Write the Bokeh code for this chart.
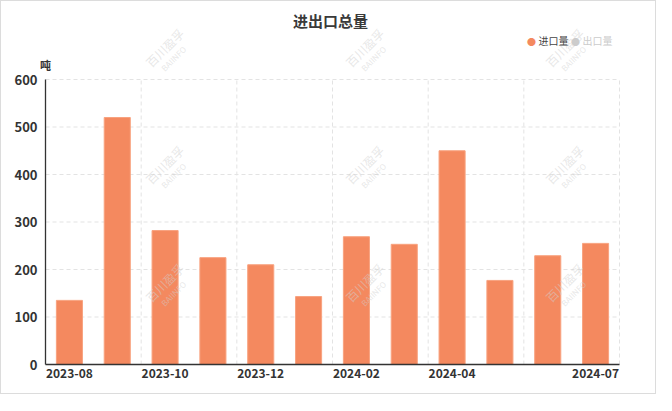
from bokeh.plotting import figure
from bokeh.models import Range1d, FixedTicker, Label, ColumnDataSource, LinearAxis
from bokeh.embed import file_html
from bokeh.resources import INLINE

# ---- data ----
months = ["2023-08", "2023-09", "2023-10", "2023-11", "2023-12", "2024-01",
          "2024-02", "2024-03", "2024-04", "2024-05", "2024-06", "2024-07"]
import_vals = [135, 520, 282, 225, 210, 143, 269, 253, 450, 177, 229, 255]
shown_label_idx = [0, 2, 4, 6, 8, 11]
y_ticks = [0, 100, 200, 300, 400, 500, 600]
grid_x = [2, 4, 6, 8, 10, 12]
title_text = "进出口总量"
unit_text = "吨"
legend_names = ["进口量", "出口量"]

FONT = "Noto Sans CJK SC"
BAR = "#F4895F"

# reference geometry (page px)
CANVAS_X0, CANVAS_Y0 = 9, 9
FRAME_L, FRAME_R, FRAME_B, FRAME_T600 = 53.0, 627.0, 372.0, 87.0
W, H = 656, 394
PX_X = (FRAME_R - FRAME_L) / len(months)
PX_Y = (FRAME_B - FRAME_T600) / y_ticks[-1]

def dx(px):
    return (px - FRAME_L) / PX_X

def dy(py):
    return (FRAME_B - py) / PX_Y

p = figure(width=W, height=H, output_backend="svg", toolbar_location=None,
           x_range=Range1d(dx(CANVAS_X0), dx(CANVAS_X0 + W)),
           y_range=Range1d(dy(CANVAS_Y0 + H), dy(CANVAS_Y0)),
           x_axis_location=None, y_axis_location=None,
           min_border=0, background_fill_color="white", border_fill_color="white")
p.outline_line_color = None
p.styles = {"border": "1px solid #dcdcdc"}
p.xgrid.visible = False
p.ygrid.visible = False

n = len(months)
top = y_ticks[-1]
# dashed grid lines limited to the plotting area
gy = y_ticks[1:]
p.segment(x0=[0] * len(gy), x1=[n] * len(gy), y0=gy, y1=gy,
          line_color="#e3e3e3", line_dash="4 3", line_width=1)
p.segment(x0=grid_x, x1=grid_x, y0=[0] * len(grid_x), y1=[top] * len(grid_x),
          line_color="#e3e3e3", line_dash="4 3", line_width=1)

xs = [i + 0.5 for i in range(n)]
src = ColumnDataSource(dict(x=xs, top=import_vals))
p.vbar(x="x", top="top", width=0.545, bottom=0, source=src,
       fill_color=BAR, line_color="#F8A27F", line_width=1)

# axes at fixed data locations
xaxis = LinearAxis(fixed_location=0, bounds=(0, n),
                   ticker=FixedTicker(ticks=[xs[i] for i in shown_label_idx]),
                   major_label_overrides={xs[i]: months[i] for i in shown_label_idx})
yaxis = LinearAxis(fixed_location=0, bounds=(0, top),
                   ticker=FixedTicker(ticks=y_ticks))
for ax in (xaxis, yaxis):
    ax.axis_line_color = "#333333"
    ax.axis_line_width = 1.3
    ax.major_tick_line_color = None
    ax.minor_tick_line_color = None
    ax.major_label_text_font = FONT
    ax.major_label_text_font_style = "bold"
    ax.major_label_text_color = "#333333"
xaxis.major_label_text_font_size = "12px"
yaxis.major_label_text_font_size = "13px"
xaxis.major_label_standoff = -2
yaxis.major_label_standoff = 2
p.add_layout(xaxis, "below")
p.add_layout(yaxis, "left")

# watermark (rows fully inside the chart box)
for cx in (172, 372, 572):
    for cy in (55, 172, 290):
        p.add_layout(Label(x=dx(cx), y=dy(cy), text="百川盈孚", angle=45,
                           angle_units="deg", text_align="center",
                           text_baseline="middle", text_font=FONT,
                           text_font_size="12px", text_color="#d0d0d0",
                           text_alpha=0.5))
        p.add_layout(Label(x=dx(cx + 9), y=dy(cy + 11), text="BAIINFO", angle=45,
                           angle_units="deg", text_align="center",
                           text_baseline="middle", text_font=FONT,
                           text_font_size="8px", text_color="#d0d0d0",
                           text_alpha=0.5))

# title
p.add_layout(Label(x=dx(338), y=dy(28), text=title_text, text_align="center",
                   text_baseline="middle", text_font=FONT, text_font_size="15px",
                   text_font_style="bold", text_color="#3a3a3a"))
# unit
p.add_layout(Label(x=dx(53), y=dy(72), text=unit_text, text_align="center",
                   text_baseline="middle", text_font=FONT, text_font_size="11px",
                   text_font_style="bold", text_color="#333333"))
# legend
p.add_layout(Label(x=dx(539), y=dy(48.5), text="●", text_align="center",
                   text_baseline="middle", text_font=FONT, text_font_size="9px",
                   text_color=BAR))
p.add_layout(Label(x=dx(546), y=dy(48), text=legend_names[0], text_align="left",
                   text_baseline="middle", text_font=FONT, text_font_size="10px",
                   text_color="#444444"))
p.add_layout(Label(x=dx(583), y=dy(48.5), text="●", text_align="center",
                   text_baseline="middle", text_font=FONT, text_font_size="9px",
                   text_color="#cccccc"))
p.add_layout(Label(x=dx(590), y=dy(48), text=legend_names[1], text_align="left",
                   text_baseline="middle", text_font=FONT, text_font_size="10px",
                   text_color="#cccccc"))

open("out.html", "w").write(file_html(p, INLINE))
